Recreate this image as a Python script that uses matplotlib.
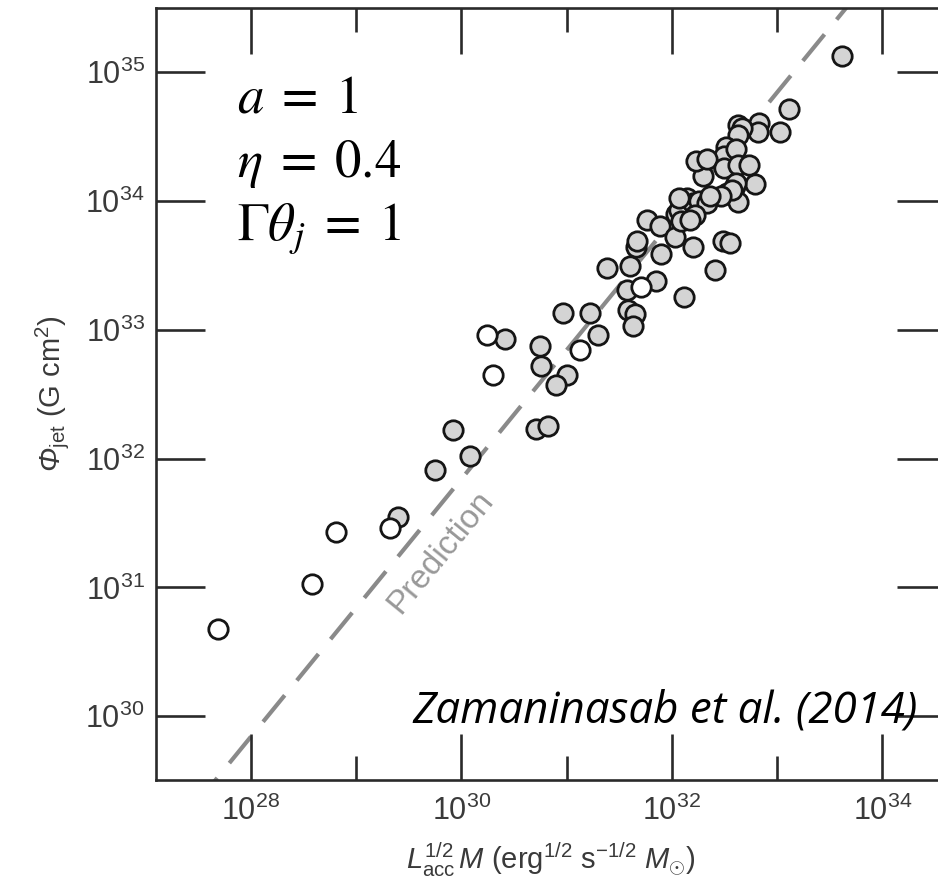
import numpy as np
import matplotlib
matplotlib.use("Agg")
import matplotlib.pyplot as plt
from matplotlib.ticker import FixedLocator, NullFormatter, LogFormatterSciNotation

plt.rcParams['font.family'] = ['Liberation Sans', 'DejaVu Sans']
plt.rcParams['mathtext.fontset'] = 'custom'
plt.rcParams['mathtext.rm'] = 'Liberation Sans'
plt.rcParams['mathtext.it'] = 'Liberation Sans:italic'
plt.rcParams['mathtext.bf'] = 'Liberation Sans:bold'
plt.rcParams['mathtext.sf'] = 'Liberation Sans:italic'

# ---- data (log10 values) ----
filled_logx = [29.40, 29.75, 29.92, 30.08, 30.42, 30.71, 30.82, 30.75, 30.76, 31.00,
               30.90, 30.97, 31.22, 31.30, 31.38, 31.57, 31.58, 31.65, 31.63, 31.60,
               31.66, 31.67, 31.85, 31.90, 32.12, 32.41, 32.20, 32.49, 32.55, 31.76,
               31.89, 32.03, 32.04, 32.07, 32.09, 32.14, 32.20, 32.26, 32.33, 32.22,
               32.17, 32.07, 32.30, 32.52, 32.60, 32.63, 32.79, 33.11, 33.03, 32.83,
               32.82, 32.63, 32.67, 32.63, 32.51, 32.50, 32.61, 32.23, 32.33, 32.50,
               32.63, 32.73, 32.61, 32.57, 32.47, 33.62, 32.36]
filled_logy = [31.55, 31.91, 32.22, 32.02, 32.93, 32.23, 32.25, 32.87, 32.72, 32.65,
               32.57, 33.13, 33.13, 32.96, 33.48, 33.31, 33.15, 33.12, 33.03, 33.49,
               33.64, 33.69, 33.38, 33.59, 33.25, 33.46, 33.64, 33.69, 33.67, 33.85,
               33.80, 33.72, 33.90, 33.93, 33.84, 34.02, 33.98, 34.00, 33.98, 33.89,
               33.85, 34.02, 34.19, 34.06, 34.11, 33.99, 34.13, 34.71, 34.53, 34.60,
               34.53, 34.59, 34.56, 34.51, 34.42, 34.35, 34.40, 34.31, 34.32, 34.25,
               34.28, 34.28, 34.14, 34.08, 34.04, 35.12, 34.04]
open_logx = [27.69, 28.58, 28.81, 29.32, 30.24, 30.30, 31.13, 31.71]
open_logy = [30.68, 31.03, 31.43, 31.46, 32.96, 32.65, 32.84, 33.33]

pred_slope = 1.0
pred_intercept = 1.84

xticks_major = [1e28, 1e30, 1e32, 1e34]
xticks_minor = [1e29, 1e31, 1e33]
yticks_major = [1e30, 1e31, 1e32, 1e33, 1e34, 1e35]

fig = plt.figure(figsize=(9.38, 8.86), dpi=100)
ax = fig.add_axes([0.166, 0.1196, 0.8430, 0.8713])
ax.set_xscale('log')
ax.set_yscale('log')
ax.set_xlim(10**27.098, 10**34.608)
ax.set_ylim(10**29.506, 10**35.494)

# prediction line
lx = np.array([26.5, 35.5])
ax.plot(10**lx, 10**(pred_slope * lx + pred_intercept), color='#8a8a8a', lw=3.0,
        dashes=(8.2, 4.6), dash_capstyle='butt', zorder=1)

ax.scatter(10**np.array(filled_logx), 10**np.array(filled_logy), s=195,
           facecolor='#d4d4d4', edgecolor='#151515', linewidths=2.0, zorder=3)
ax.scatter(10**np.array(open_logx), 10**np.array(open_logy), s=195,
           facecolor='white', edgecolor='#151515', linewidths=2.0, zorder=4)

for sp in ax.spines.values():
    sp.set_linewidth(1.9)
    sp.set_color('#2a2a2a')

ax.xaxis.set_major_locator(FixedLocator(xticks_major))
ax.xaxis.set_minor_locator(FixedLocator(xticks_minor))
ax.xaxis.set_minor_formatter(NullFormatter())
ax.xaxis.set_major_formatter(LogFormatterSciNotation())
ax.yaxis.set_major_locator(FixedLocator(yticks_major))
ax.yaxis.set_minor_locator(FixedLocator([]))
ax.yaxis.set_major_formatter(LogFormatterSciNotation())

ax.tick_params(axis='x', which='major', direction='in', length=33, width=1.9,
               top=True, bottom=True, labelsize=22, pad=11, colors='#2a2a2a',
               labelcolor='#3a3a3a')
ax.tick_params(axis='x', which='minor', direction='in', length=17, width=1.9,
               top=True, bottom=True, colors='#2a2a2a')
ax.tick_params(axis='y', which='major', direction='in', length=35, width=1.9,
               left=True, right=True, labelsize=22, pad=8, colors='#2a2a2a',
               labelcolor='#3a3a3a')

ax.set_xlabel(r"$L_{\rm acc}^{1/2}\,M$ (erg$^{1/2}$ s$^{-1/2}$ $M_{\odot}$)",
              fontsize=21, color='#3a3a3a', labelpad=10)
ax.set_ylabel(r"$\mathsf{\Phi}_{\rm jet}$ (G cm$^2$)", fontsize=21, color='#3a3a3a',
              labelpad=10)

# Prediction label
ax.text(10**29.8, 10**31.27, "Prediction", rotation=50.7, color='#999999',
        fontsize=24, ha='center', va='center', rotation_mode='anchor')

# parameter annotation
fig.text(0.2527, 0.8725, r"$a\;=\;1$", fontsize=38, math_fontfamily='stix',
         ha='left', va='baseline')
fig.text(0.2527, 0.8002, r"$\eta\;=\;0.4$", fontsize=38, math_fontfamily='stix',
         ha='left', va='baseline')
fig.text(0.2527, 0.7291, r"$\Gamma\theta_j\;=\;1$", fontsize=38, math_fontfamily='stix',
         ha='left', va='baseline')

fig.text(0.9787, 0.184, "Zamaninasab et al. (2014)", fontsize=31.6, style='italic',
         family=['Open Sans', 'DejaVu Sans'], ha='right', va='baseline', color='black')

fig.savefig("out.png", dpi=100)
